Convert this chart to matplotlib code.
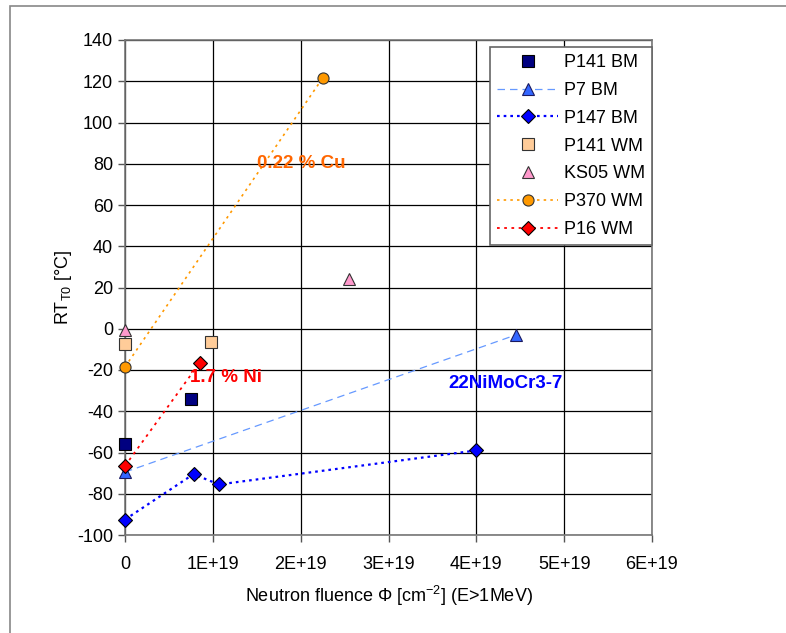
import matplotlib
matplotlib.use('Agg')
import matplotlib.pyplot as plt
from matplotlib.patches import Rectangle

plt.rcParams['font.family'] = ['Liberation Sans', 'DejaVu Sans']
plt.rcParams['mathtext.fontset'] = 'custom'
plt.rcParams['mathtext.rm'] = 'Liberation Sans'
plt.rcParams['mathtext.it'] = 'Liberation Sans:italic'
plt.rcParams['axes.unicode_minus'] = False

# data (fluence in 1E+19 cm^-2, RT_T0 in degC)
p141_bm_x = [0, 0.75]
p141_bm_y = [-56, -34]
p7_bm_x = [0, 4.45]
p7_bm_y = [-69.5, -3]
p147_bm_x = [0, 0.78, 1.07, 4.0]
p147_bm_y = [-92.5, -70.5, -75.5, -59]
p141_wm_x = [0, 0.98]
p141_wm_y = [-7.5, -6.5]
ks05_wm_x = [0, 2.55]
ks05_wm_y = [-0.5, 24]
p370_wm_x = [0, 2.25]
p370_wm_y = [-18.5, 121.5]
p16_wm_x = [0, 0.85]
p16_wm_y = [-66.5, -16.5]

x_ticks = [0, 1, 2, 3, 4, 5, 6]
x_labels = ['0', '1E+19', '2E+19', '3E+19', '4E+19', '5E+19', '6E+19']
y_ticks = list(range(-100, 141, 20))

fig = plt.figure(figsize=(7.86, 6.33), dpi=100)
ax = fig.add_axes([125/786, 1 - 535/633, 527/786, 495/633])

fig.patches.append(Rectangle((10/786, -0.1), 1.2, 1.1 - 6/633, transform=fig.transFigure,
                             fill=False, edgecolor='#888888', lw=1.2))

ms = 8
ax.plot(p141_bm_x, p141_bm_y, ls='none', marker='s', ms=ms, mfc='#000080', mec='black', mew=0.8,
        label='P141 BM', zorder=5, clip_on=False)
ax.plot(p7_bm_x, p7_bm_y, ls=(0, (6, 4)), lw=0.9, color='#6699FF', marker='^', ms=ms + 1, mfc='#3366FF',
        mec='#1a1a60', mew=0.8, label='P7 BM', zorder=4, clip_on=False)
ax.plot(p147_bm_x, p147_bm_y, ls=(0, (1.2, 1.8)), lw=1.6, color='#0000FF', marker='D', ms=ms - 1, mfc='#0000FF',
        mec='black', mew=0.8, label='P147 BM', zorder=4, clip_on=False)
ax.plot(p141_wm_x, p141_wm_y, ls='none', marker='s', ms=ms, mfc='#FFCC99', mec='#333333', mew=0.8,
        label='P141 WM', zorder=5, clip_on=False)
ax.plot(ks05_wm_x, ks05_wm_y, ls='none', marker='^', ms=ms + 1, mfc='#FF99CC', mec='#333333', mew=0.8,
        label='KS05 WM', zorder=5, clip_on=False)
ax.plot(p370_wm_x, p370_wm_y, ls=(0, (1.5, 2.5)), lw=1.2, color='#FF9900', marker='o', ms=ms, mfc='#FF9900',
        mec='#333333', mew=0.8, label='P370 WM', zorder=4, clip_on=False)
ax.plot(p16_wm_x, p16_wm_y, ls=(0, (1.5, 2.5)), lw=1.3, color='#FF0000', marker='D', ms=ms - 1, mfc='#FF0000',
        mec='black', mew=0.8, label='P16 WM', zorder=4, clip_on=False)

ax.text(1.5, 80, '0.22 % Cu', color='#FF6600', fontsize=13.5, fontweight='bold', va='center', ha='left', zorder=6)
ax.text(0.74, -23.5, '1.7 % Ni', color='#FF0000', fontsize=13.5, fontweight='bold', va='center', ha='left', zorder=6)
ax.text(3.68, -26.5, '22NiMoCr3-7', color='#0000FF', fontsize=13.5, fontweight='bold', va='center', ha='left', zorder=6)

ax.set_xlim(0, 6)
ax.set_ylim(-100, 140)
ax.set_xticks(x_ticks)
ax.set_xticklabels(x_labels)
ax.set_yticks(y_ticks)
ax.tick_params(axis='both', labelsize=13, direction='out', length=5, color='#555555', width=1)
ax.tick_params(axis='x', pad=10)
ax.grid(True, color='black', lw=0.9)
ax.set_axisbelow(True)
for s in ax.spines.values():
    s.set_color('#777777')
    s.set_linewidth(1.2)

ax.set_xlabel('Neutron fluence Φ [cm$^{-2}$] (E>1MeV)', fontsize=13, labelpad=8)
ax.set_ylabel('RT$_{\\mathrm{T0}}$ [°C]', fontsize=13, labelpad=2)

leg = ax.legend(loc='upper right', bbox_to_anchor=(1.0, 0.986), fontsize=13, frameon=True, fancybox=False,
                edgecolor='#666666', framealpha=1, handlelength=3.4, labelspacing=0.6, borderpad=0.4,
                handletextpad=0.3, borderaxespad=0)
leg.get_frame().set_linewidth(1.2)

fig.savefig('out.png', dpi=100)
